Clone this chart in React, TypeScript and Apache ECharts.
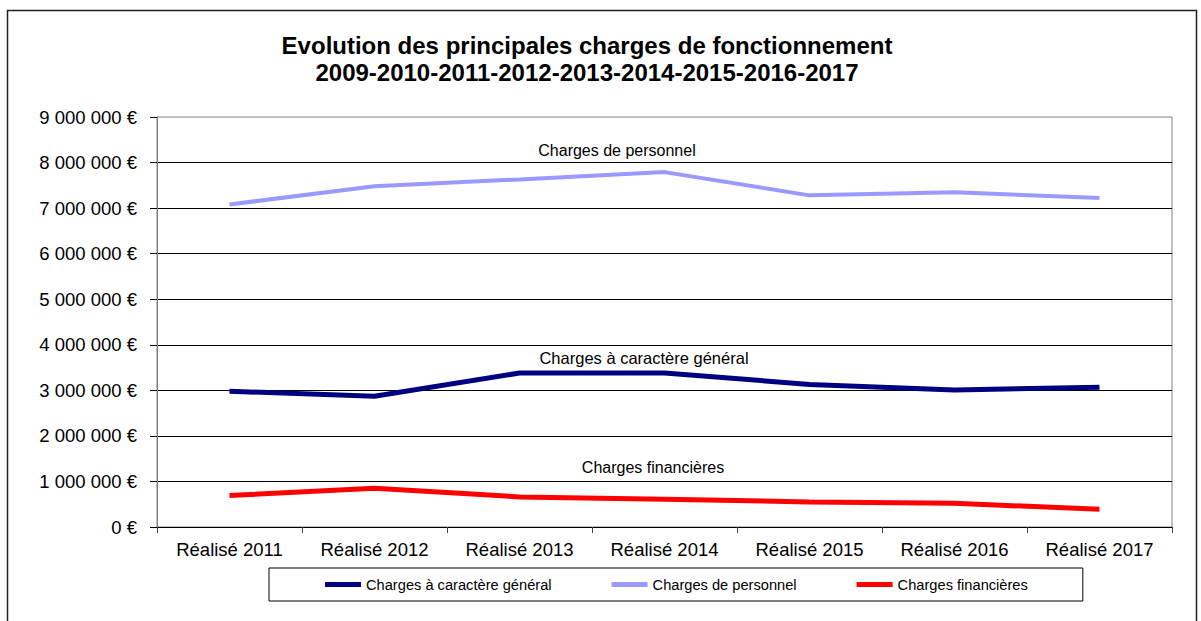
import React, { useEffect, useRef } from "react";
import * as echarts from "echarts";

const categories = [
  "Réalisé 2011",
  "Réalisé 2012",
  "Réalisé 2013",
  "Réalisé 2014",
  "Réalisé 2015",
  "Réalisé 2016",
  "Réalisé 2017",
];
const seriesNames = [
  "Charges à caractère général",
  "Charges de personnel",
  "Charges financières",
];
const chargesGenerales = [2980000, 2870000, 3380000, 3380000, 3130000, 3010000, 3070000];
const chargesPersonnel = [7080000, 7480000, 7630000, 7790000, 7280000, 7350000, 7220000];
const chargesFinancieres = [690000, 850000, 660000, 610000, 550000, 520000, 390000];
const titleLines = [
  "Evolution des principales charges de fonctionnement",
  "2009-2010-2011-2012-2013-2014-2015-2016-2017",
];

const FONT = "'Liberation Sans', Arial, sans-serif";

function fmtEuro(v: number): string {
  return String(Math.round(v)).replace(/\B(?=(\d{3})+(?!\d))/g, " ") + " €";
}

export default function App() {
  const ref = useRef<HTMLDivElement>(null);
  useEffect(() => {
    if (!ref.current) return;
    const chart = echarts.init(ref.current, undefined, { renderer: "svg" });
    const colors = ["#000080", "#9999FF", "#FF0000"];
    const values = [chargesGenerales, chargesPersonnel, chargesFinancieres];
    chart.setOption({
      animation: false,
      backgroundColor: "#ffffff",
      textStyle: { fontFamily: FONT },
      grid: {
        left: 157,
        right: 29,
        top: 117,
        bottom: 94,
        show: true,
        borderColor: "#808080",
        borderWidth: 1,
        backgroundColor: "transparent",
      },
      legend: {
        left: 269,
        top: 568,
        padding: [9, 55, 9, 56],
        borderColor: "#000",
        borderWidth: 1,
        itemGap: 60,
        itemWidth: 36,
        itemHeight: 5,
        icon: "rect",
        data: seriesNames,
        textStyle: { fontFamily: FONT, fontSize: 14.65, color: "#000" },
      },
      xAxis: {
        type: "category",
        data: categories,
        boundaryGap: true,
        axisLine: { show: true, lineStyle: { color: "#000", width: 1 } },
        axisTick: { show: true, length: 6, lineStyle: { color: "#404040" } },
        axisLabel: { fontFamily: FONT, fontSize: 18.5, color: "#000", margin: 13 },
        splitLine: { show: false },
      },
      yAxis: {
        type: "value",
        min: 0,
        max: 9000000,
        interval: 1000000,
        axisLine: { show: true, lineStyle: { color: "#808080", width: 1 } },
        axisTick: { show: true, length: 7, lineStyle: { color: "#000" } },
        axisLabel: {
          fontFamily: FONT,
          fontSize: 18.5,
          color: "#000",
          margin: 20,
          formatter: (v: number) => fmtEuro(v),
        },
        splitLine: {
          show: true,
          showMaxLine: false,
          lineStyle: { color: "#000", width: 1 },
        },
      },
      series: seriesNames.map((name, i) => ({
        name,
        type: "line",
        data: values[i],
        symbol: "none",
        smooth: false,
        color: colors[i],
        lineStyle: { color: colors[i], width: i === 1 ? 4 : 5 },
        z: 3,
      })),
      graphic: [
        {
          type: "rect",
          shape: { x: 7.5, y: 10.5, width: 1189, height: 650 },
          style: { fill: "none", stroke: "#222", lineWidth: 1.5 },
          z: -1,
          silent: true,
        },
        {
          type: "text",
          x: 587,
          y: 45,
          style: {
            text: titleLines[0],
            fontFamily: FONT,
            fontSize: 24,
            fontWeight: "bold",
            fill: "#000",
            textAlign: "center",
            textVerticalAlign: "middle",
          },
        },
        {
          type: "text",
          x: 587,
          y: 72,
          style: {
            text: titleLines[1],
            fontFamily: FONT,
            fontSize: 24,
            fontWeight: "bold",
            fill: "#000",
            textAlign: "center",
            textVerticalAlign: "middle",
          },
        },
        {
          type: "text",
          x: 617,
          y: 150,
          style: {
            text: seriesNames[1],
            fontFamily: FONT,
            fontSize: 16,
            fill: "#000",
            textAlign: "center",
            textVerticalAlign: "middle",
          },
        },
        {
          type: "text",
          x: 644,
          y: 358,
          style: {
            text: seriesNames[0],
            fontFamily: FONT,
            fontSize: 16.5,
            fill: "#000",
            textAlign: "center",
            textVerticalAlign: "middle",
          },
        },
        {
          type: "text",
          x: 653,
          y: 467,
          style: {
            text: seriesNames[2],
            fontFamily: FONT,
            fontSize: 16,
            fill: "#000",
            textAlign: "center",
            textVerticalAlign: "middle",
          },
        },
      ],
    });
    return () => chart.dispose();
  }, []);
  return (
    <div
      ref={ref}
      style={{ position: "fixed", left: 0, top: 0, width: 1201, height: 621 }}
    />
  );
}
